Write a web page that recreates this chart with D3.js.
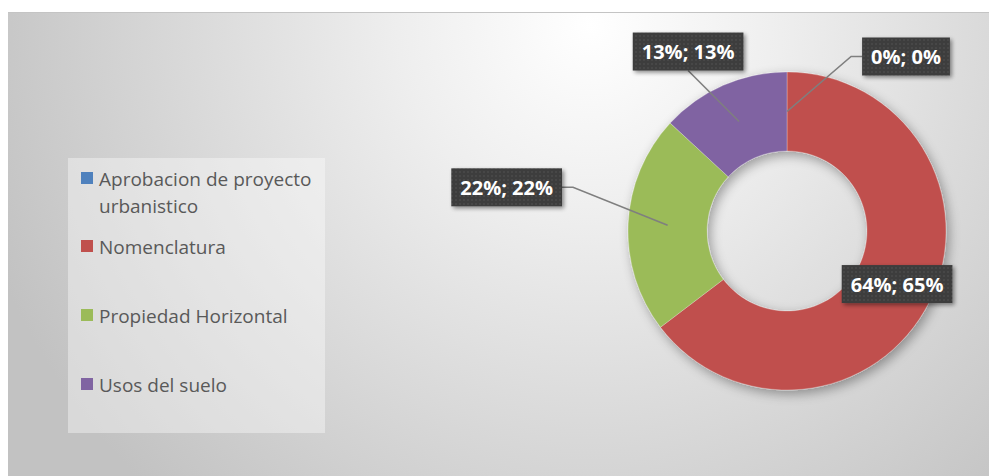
<!DOCTYPE html>
<html>
<head>
<meta charset="utf-8">
<script src="https://cdn.jsdelivr.net/npm/d3@7"></script>
<style>
  html, body { margin: 0; padding: 0; background: #ffffff; }
  svg { display: block; }
</style>
</head>
<body>
<svg id="chart" width="989" height="476"></svg>
<script>
// Trámites por tipo
const categories = [
  "Aprobacion de proyecto urbanistico",
  "Nomenclatura",
  "Propiedad Horizontal",
  "Usos del suelo"
];
const values = [0, 0.64, 0.22, 0.13];
const colors = ["#4f81bd", "#c0504d", "#9bbb59", "#8064a2"];
// label box displacement from each slice centroid
const labelOffsets = [[119, -55], [3, 0], [-161, -38], [-51, -70]];

const W = 989, H = 476;
const svg = d3.select("#chart");
const defs = svg.append("defs");

// chart area background: soft radial grey
const bg = defs.append("radialGradient")
  .attr("id", "bgGrad")
  .attr("gradientUnits", "userSpaceOnUse")
  .attr("cx", 590).attr("cy", 25).attr("r", 640);
[[0, "#ffffff"], [0.3, "#eeeeee"], [0.65, "#d8d8d8"], [1, "#c2c2c2"]]
  .forEach(([o, c]) => bg.append("stop").attr("offset", o).attr("stop-color", c));

// shadow under the ring
const sh = defs.append("filter").attr("id", "ringShadow")
  .attr("x", "-20%").attr("y", "-20%").attr("width", "140%").attr("height", "140%");
sh.append("feGaussianBlur").attr("in", "SourceAlpha").attr("stdDeviation", 6).attr("result", "b");
sh.append("feOffset").attr("in", "b").attr("dx", 3).attr("dy", 4).attr("result", "o");
sh.append("feComponentTransfer").attr("in", "o").attr("result", "s")
  .append("feFuncA").attr("type", "linear").attr("slope", 0.35);
const shm = sh.append("feMerge");
shm.append("feMergeNode").attr("in", "s");
shm.append("feMergeNode").attr("in", "SourceGraphic");

// shadow under the data labels
const ls = defs.append("filter").attr("id", "labelShadow")
  .attr("x", "-20%").attr("y", "-30%").attr("width", "140%").attr("height", "160%");
ls.append("feGaussianBlur").attr("in", "SourceAlpha").attr("stdDeviation", 2).attr("result", "b");
ls.append("feOffset").attr("in", "b").attr("dx", 2).attr("dy", 2).attr("result", "o");
ls.append("feComponentTransfer").attr("in", "o").attr("result", "s")
  .append("feFuncA").attr("type", "linear").attr("slope", 0.45);
const lsm = ls.append("feMerge");
lsm.append("feMergeNode").attr("in", "s");
lsm.append("feMergeNode").attr("in", "SourceGraphic");

// faint dotted texture on label boxes
const pat = defs.append("pattern").attr("id", "dots")
  .attr("width", 4).attr("height", 4).attr("patternUnits", "userSpaceOnUse");
pat.append("rect").attr("width", 4).attr("height", 4).attr("fill", "#3c3c3c");
pat.append("circle").attr("cx", 1).attr("cy", 1).attr("r", 0.7).attr("fill", "#5a5a5a");

// chart area
svg.append("rect")
  .attr("x", 8).attr("y", 12).attr("width", W - 8).attr("height", H - 12)
  .attr("fill", "url(#bgGrad)");
svg.append("line")
  .attr("x1", 8).attr("x2", W).attr("y1", 12.5).attr("y2", 12.5)
  .attr("stroke", "#c4c4c4").attr("stroke-width", 1);

// legend
const legend = svg.append("g");
legend.append("rect")
  .attr("x", 68).attr("y", 158).attr("width", 257).attr("height", 275)
  .attr("fill", "#ffffff").attr("fill-opacity", 0.38);

const legendBaselines = [186, 254, 323, 392];
categories.forEach((name, i) => {
  const g = legend.append("g");
  g.append("rect")
    .attr("x", 81).attr("y", legendBaselines[i] - 14)
    .attr("width", 12).attr("height", 12)
    .attr("fill", colors[i]);
  const t = g.append("text")
    .attr("x", 99).attr("y", legendBaselines[i])
    .attr("font-family", "'Open Sans', sans-serif")
    .attr("font-size", 19)
    .attr("fill", "#595959");
  // wrap long names onto a second line
  const words = name.split(" ");
  let line = [];
  let tspan = t.append("tspan").attr("x", 99).attr("dy", 0);
  words.forEach(w => {
    line.push(w);
    tspan.text(line.join(" "));
    if (tspan.node().getComputedTextLength() > 222 && line.length > 1) {
      line.pop();
      tspan.text(line.join(" "));
      line = [w];
      tspan = t.append("tspan").attr("x", 99).attr("dy", 27).text(w);
    }
  });
});

// donut
const cx = 787, cy = 231, rOuter = 159, rInner = 80;
const total = d3.sum(values);
const pie = d3.pie().sort(null).value(d => d);
const arcs = pie(values);
const arc = d3.arc().innerRadius(rInner).outerRadius(rOuter);
const mid = (rInner + rOuter) / 2;
const midArc = d3.arc().innerRadius(mid).outerRadius(mid);

const ring = svg.append("g")
  .attr("transform", `translate(${cx},${cy})`)
  .attr("filter", "url(#ringShadow)");
ring.selectAll("path")
  .data(arcs)
  .join("path")
  .attr("d", arc)
  .attr("fill", (d, i) => colors[i])
  .attr("stroke", "#ffffff").attr("stroke-opacity", 0.25).attr("stroke-width", 1);

// data labels: "value; share"
const fmt = d3.format(".0%");
const lab = svg.append("g").attr("transform", `translate(${cx},${cy})`);
const boxH = 38, padX = 9;

arcs.forEach((d, i) => {
  const [px, py] = midArc.centroid(d);
  const bx = px + labelOffsets[i][0];
  const by = py + labelOffsets[i][1];
  const txt = `${fmt(values[i])}; ${fmt(values[i] / total)}`;

  const g = lab.append("g");
  const text = g.append("text")
    .attr("x", bx).attr("y", by)
    .attr("text-anchor", "middle")
    .attr("dominant-baseline", "central")
    .attr("font-family", "'Open Sans', sans-serif")
    .attr("font-weight", 700)
    .attr("font-size", 20)
    .attr("fill", "#ffffff")
    .text(txt);
  const tw = text.node().getComputedTextLength();
  const bw = tw + padX * 2;
  const x0 = bx - bw / 2, x1 = bx + bw / 2, y0 = by - boxH / 2, y1 = by + boxH / 2;

  // leader line from box to slice
  const inside = px >= x0 && px <= x1 && py >= y0 && py <= y1;
  if (!inside) {
    let pts;
    if (px >= x0 && px <= x1) {
      pts = py > by ? [[bx, y1], [px, py]] : [[bx, y0], [px, py]];
    } else if (px > x1) {
      pts = [[x1, by], [x1 + 11, by], [px, py]];
    } else {
      pts = [[x0, by], [x0 - 11, by], [px, py]];
    }
    lab.insert("path", ":first-child")
      .attr("d", d3.line()(pts))
      .attr("fill", "none")
      .attr("stroke", "#7f7f7f")
      .attr("stroke-width", 1.6);
  }

  g.insert("rect", "text")
    .attr("x", x0).attr("y", y0)
    .attr("width", bw).attr("height", boxH)
    .attr("fill", "url(#dots)")
    .attr("filter", "url(#labelShadow)");
});
</script>
</body>
</html>
